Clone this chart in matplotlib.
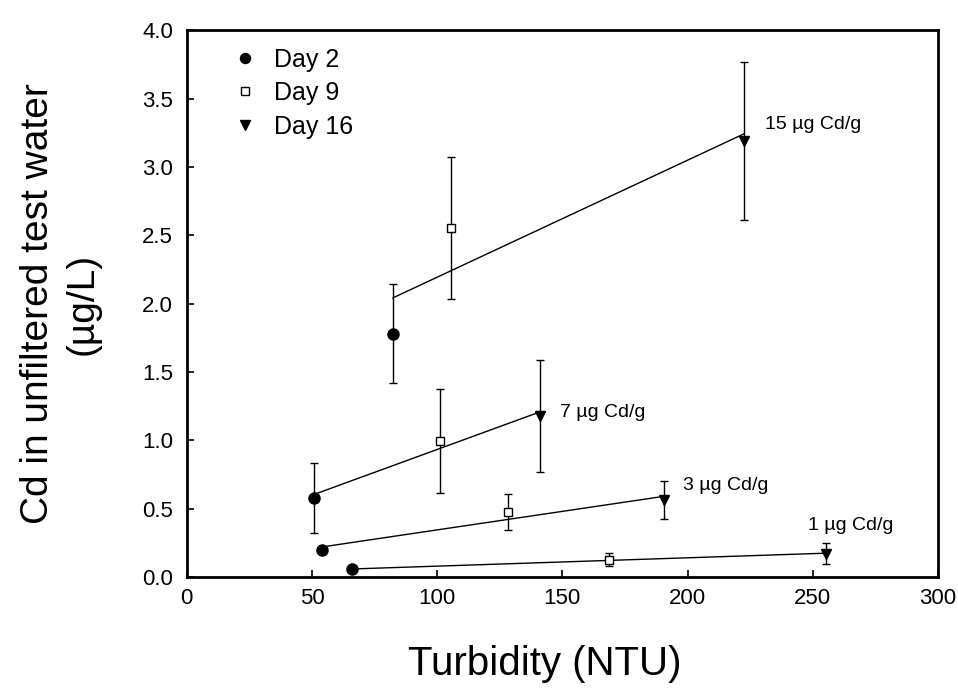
"""
Cd in unfiltered test water versus turbidity, per sediment Cd level
"""
import numpy as np
import matplotlib
matplotlib.use("Agg")
import matplotlib.pyplot as plt

plt.rcParams['font.family'] = ['Liberation Sans', 'DejaVu Sans']

# groups: sediment Cd concentration, points for day 2, 9, 16
levels = ["1 µg Cd/g", "3 µg Cd/g", "7 µg Cd/g", "15 µg Cd/g"]

day2_x = [66.1, 54.1, 50.8, 82.3]
day2_y = [0.056, 0.195, 0.581, 1.78]
day2_err = [0.0, 0.03, 0.256, 0.36]

day9_x = [168.5, 128.3, 101.3, 105.7]
day9_y = [0.127, 0.476, 0.993, 2.556]
day9_err = [0.05, 0.13, 0.38, 0.52]

day16_x = [255.3, 190.8, 141.2, 222.6]
day16_y = [0.171, 0.561, 1.18, 3.19]
day16_err = [0.075, 0.14, 0.41, 0.58]

# label anchor (data coords) for each level
label_x = [248.1, 198.2, 149.2, 231.0]
label_y = [0.378, 0.671, 1.205, 3.31]

fig = plt.figure(figsize=(9.58, 6.93), dpi=100)
ax = fig.add_axes([0.195, 0.1674, 0.784, 0.789])

# regression line through the three days of each level
for i in range(len(levels)):
    xs = np.array([day2_x[i], day9_x[i], day16_x[i]])
    ys = np.array([day2_y[i], day9_y[i], day16_y[i]])
    slope, icpt = np.polyfit(xs, ys, 1)
    xl = np.array([xs.min(), xs.max()])
    ax.plot(xl, slope * xl + icpt, color='black', lw=1.0, zorder=2)
    ax.text(label_x[i], label_y[i], levels[i], fontsize=14, ha='left', va='center')

err_kw = dict(ecolor='black', elinewidth=1.0, capsize=3, capthick=1.0, linestyle='none', zorder=3)
ax.errorbar(day2_x, day2_y, yerr=day2_err, fmt='o', ms=8, mfc='black', mec='black',
            label='Day 2', **err_kw)
ax.errorbar(day9_x, day9_y, yerr=day9_err, fmt='s', ms=6, mfc='white', mec='black',
            mew=1.0, label='Day 9', **err_kw)
ax.errorbar(day16_x, day16_y, yerr=day16_err, fmt='v', ms=7.5, mfc='black', mec='black',
            label='Day 16', **err_kw)

ax.set_xlim(0, 300)
ax.set_ylim(0, 4.0)
ax.set_xticks(np.arange(0, 301, 50))
ax.set_yticks(np.arange(0, 4.01, 0.5))
ax.set_yticklabels([f"{v:.1f}" for v in np.arange(0, 4.01, 0.5)])
ax.tick_params(direction='in', length=5, width=1.2, labelsize=16)
ax.tick_params(axis='x', pad=8)
ax.tick_params(axis='y', pad=10)
for s in ax.spines.values():
    s.set_linewidth(2)

ax.set_xlabel("Turbidity (NTU)", fontsize=29, labelpad=30)
ax.xaxis.set_label_coords(0.477, -0.125)
ax.set_ylabel("Cd in unfiltered test water\n(µg/L)", fontsize=28, labelpad=30,
              linespacing=1.3)

handles, labs = ax.get_legend_handles_labels()
handles = [h[0] for h in handles]
ax.legend(handles, labs, loc='upper left', frameon=False, fontsize=18,
          handlelength=1.6, handletextpad=0.35, labelspacing=0.38, borderaxespad=0.3,
          markerscale=0.9, bbox_to_anchor=(0.028, 1.0))

fig.savefig("out.png", dpi=100)
